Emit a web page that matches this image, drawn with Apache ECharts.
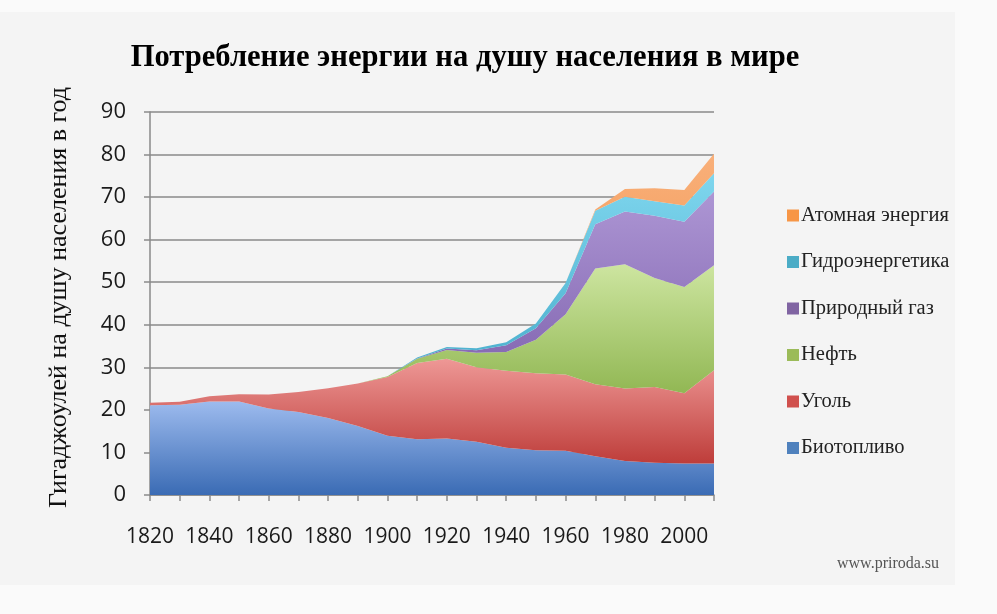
<!DOCTYPE html>
<html>
<head>
<meta charset="utf-8">
<script src="https://cdn.jsdelivr.net/npm/echarts@6/dist/echarts.min.js"></script>
<style>
  html, body { margin: 0; padding: 0; background: #fafafa; }
  #chart { width: 997px; height: 614px; }
</style>
</head>
<body>
<div id="chart"></div>
<script>
const years = ['1820', '1830', '1840', '1850', '1860', '1870', '1880', '1890', '1900', '1910',
  '1920', '1930', '1940', '1950', '1960', '1970', '1980', '1990', '2000', '2010'];

const biofuel = [21.1, 21.2, 22.0, 22.0, 20.3, 19.5, 18.1, 16.2, 13.9, 13.1, 13.3, 12.5, 11.1, 10.5, 10.4, 9.1, 8.0, 7.6, 7.4, 7.4];
const coal = [0.6, 0.7, 1.2, 1.7, 3.3, 4.7, 7.0, 10.0, 13.8, 17.9, 18.7, 17.5, 18.1, 18.1, 17.9, 16.9, 17.0, 17.8, 16.5, 21.9];
const oil = [0, 0, 0, 0, 0, 0, 0, 0, 0.2, 1.0, 2.1, 3.4, 4.4, 7.9, 14.2, 27.2, 29.2, 25.6, 25.0, 24.7];
const gas = [0, 0, 0, 0, 0, 0, 0, 0, 0, 0.1, 0.3, 0.6, 1.6, 2.7, 4.9, 10.4, 12.4, 14.6, 15.3, 17.3];
const hydro = [0, 0, 0, 0, 0, 0, 0, 0, 0, 0.2, 0.4, 0.5, 0.7, 1.1, 2.4, 3.2, 3.5, 3.4, 3.8, 4.3];
const nuclear = [0, 0, 0, 0, 0, 0, 0, 0, 0, 0, 0, 0, 0, 0, 0, 0.3, 1.8, 3.1, 3.7, 4.6];

const yTicks = [0, 10, 20, 30, 40, 50, 60, 70, 80, 90];

const seriesDefs = [
  { name: 'Биотопливо', data: biofuel, base: '#4f81bd', top: '#9dbbee', bottom: '#3a6bb4' },
  { name: 'Уголь', data: coal, base: '#d0504d', top: '#ee9896', bottom: '#be3d3a' },
  { name: 'Нефть', data: oil, base: '#9bbb59', top: '#cde5a0', bottom: '#8db44e' },
  { name: 'Природный газ', data: gas, base: '#8064a2', top: '#ad96d4', bottom: '#7c5fab' },
  { name: 'Гидроэнергетика', data: hydro, base: '#4bacc6', top: '#7fd6ee', bottom: '#42a9c8' },
  { name: 'Атомная энергия', data: nuclear, base: '#f79646', top: '#f9b07a', bottom: '#ee8a3f' }
];

const myChart = echarts.init(document.getElementById('chart'));

const option = {
  backgroundColor: '#fafafa',
  animation: false,
  graphic: [
    {
      type: 'rect',
      z: -10,
      shape: { x: 0, y: 12, width: 955, height: 573 },
      style: { fill: '#f4f4f4' },
      silent: true
    },
    {
      type: 'text',
      left: 837,
      top: 556,
      style: {
        text: 'www.priroda.su',
        font: '16px "Liberation Serif"',
        fill: '#555'
      }
    }
  ],
  title: {
    text: 'Потребление энергии на душу населения в мире',
    left: 460,
    top: 38,
    textAlign: 'center',
    textStyle: {
      fontFamily: 'Liberation Serif',
      fontWeight: 'bold',
      fontSize: 30.6,
      color: '#000'
    }
  },
  legend: {
    orient: 'vertical',
    left: 782,
    top: 200,
    itemGap: 25.5,
    itemWidth: 12,
    itemHeight: 12,
    icon: 'rect',
    data: seriesDefs.map(s => s.name).reverse(),
    textStyle: {
      fontFamily: 'Liberation Serif',
      fontSize: 20.5,
      color: '#222',
      padding: [0, 0, 0, -3]
    }
  },
  grid: {
    left: 150,
    right: 283,
    top: 112,
    bottom: 119
  },
  xAxis: {
    type: 'category',
    data: years,
    boundaryGap: false,
    axisLine: { lineStyle: { color: '#8a8a8a', width: 1.5 } },
    axisTick: { alignWithLabel: true, interval: 0, length: 6, lineStyle: { color: '#8a8a8a', width: 1.5 } },
    axisLabel: {
      interval: 1,
      margin: 32,
      color: '#1a1a1a',
      fontFamily: 'Open Sans',
      fontSize: 21
    }
  },
  yAxis: {
    type: 'value',
    min: yTicks[0],
    max: yTicks[yTicks.length - 1],
    interval: 10,
    name: 'Гигаджоулей на душу населения в год',
    nameLocation: 'middle',
    nameRotate: 90,
    nameGap: 78,
    nameTextStyle: {
      fontFamily: 'Liberation Serif',
      fontSize: 26,
      color: '#111',
      padding: [0, 0, 0, 12]
    },
    axisLine: { show: true, lineStyle: { color: '#8a8a8a', width: 1.5 } },
    axisTick: { show: true, length: 6, lineStyle: { color: '#8a8a8a', width: 1.5 } },
    axisLabel: {
      margin: 24,
      color: '#1a1a1a',
      fontFamily: 'Open Sans',
      fontSize: 22
    },
    splitLine: { lineStyle: { color: '#8a8a8a', width: 1.5 } }
  },
  series: seriesDefs.map(s => ({
    name: s.name,
    type: 'line',
    stack: 'total',
    data: s.data,
    showSymbol: false,
    symbol: 'none',
    color: s.base,
    lineStyle: { width: 0 },
    areaStyle: {
      opacity: 1,
      color: new echarts.graphic.LinearGradient(0, 0, 0, 1, [
        { offset: 0, color: s.top },
        { offset: 1, color: s.bottom }
      ])
    }
  }))
};

myChart.setOption(option);
</script>
</body>
</html>
